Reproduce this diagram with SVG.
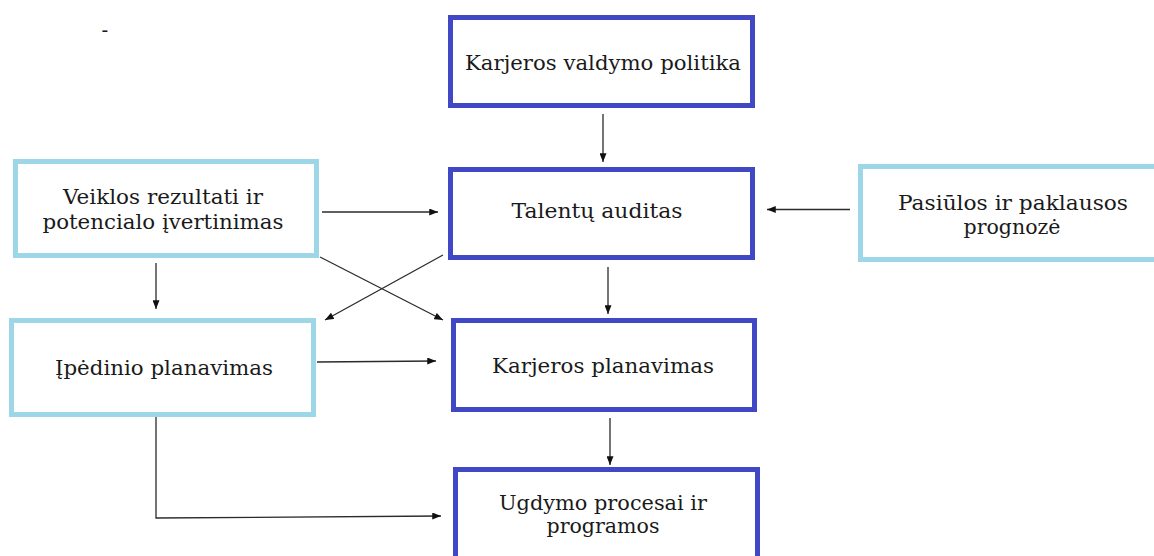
<svg xmlns="http://www.w3.org/2000/svg" width="1154" height="556" viewBox="0 0 1154 556">
  <style>
    .core { fill: #ffffff; stroke: #4148c6; stroke-width: 5; }
    .side { fill: #ffffff; stroke: #9dd6e6; stroke-width: 5; }
    .lbl { font-family: "DejaVu Serif", "Liberation Serif", serif; font-size: 20px; fill: #1a1a1a; text-anchor: middle; }
    .link { fill: none; stroke: #2b2b2b; stroke-width: 1.3; }
  </style>
  <defs>
    <marker id="arrow" viewBox="0 0 10 8" refX="10" refY="4" markerWidth="9" markerHeight="7" markerUnits="userSpaceOnUse" orient="auto">
      <path d="M0,0 L10,4 L0,8 Z" fill="#111111"/>
    </marker>
  </defs>
  <rect width="1154" height="556" fill="#ffffff"/>

  <text x="105" y="37" class="lbl" font-size="14">-</text>

  <g id="policy">
    <rect class="core" x="450.5" y="17.5" width="302" height="88"/>
    <text class="lbl" x="603" y="70" textLength="276" lengthAdjust="spacingAndGlyphs">Karjeros valdymo politika</text>
  </g>
  <g id="audit">
    <rect class="core" x="450.5" y="169.5" width="302" height="88"/>
    <text class="lbl" x="597" y="218" textLength="171" lengthAdjust="spacingAndGlyphs">Talentų auditas</text>
  </g>
  <g id="career-planning">
    <rect class="core" x="453.5" y="320.5" width="301" height="89"/>
    <text class="lbl" x="603" y="373" textLength="222" lengthAdjust="spacingAndGlyphs">Karjeros planavimas</text>
  </g>
  <g id="development">
    <rect class="core" x="455.5" y="469.5" width="302" height="92"/>
    <text class="lbl" x="603" y="510" textLength="208" lengthAdjust="spacingAndGlyphs">Ugdymo procesai ir</text>
    <text class="lbl" x="603" y="533" textLength="113" lengthAdjust="spacingAndGlyphs">programos</text>
  </g>
  <g id="appraisal">
    <rect class="side" x="15.5" y="161.5" width="301" height="94"/>
    <text class="lbl" x="163" y="204" textLength="200" lengthAdjust="spacingAndGlyphs">Veiklos rezultati ir</text>
    <text class="lbl" x="163" y="229" textLength="241" lengthAdjust="spacingAndGlyphs">potencialo įvertinimas</text>
  </g>
  <g id="succession">
    <rect class="side" x="11.5" y="320.5" width="302" height="94"/>
    <text class="lbl" x="164" y="375" textLength="218" lengthAdjust="spacingAndGlyphs">Įpėdinio planavimas</text>
  </g>
  <g id="forecast">
    <rect class="side" x="860.5" y="166.5" width="300" height="93"/>
    <text class="lbl" x="1013" y="210" textLength="230" lengthAdjust="spacingAndGlyphs">Pasiūlos ir paklausos</text>
    <text class="lbl" x="1012" y="234" textLength="97" lengthAdjust="spacingAndGlyphs">prognozė</text>
  </g>

  <g id="connectors">
    <path class="link" marker-end="url(#arrow)" d="M603,114 L603,162"/>
    <path class="link" marker-end="url(#arrow)" d="M322,212 L438,212"/>
    <path class="link" marker-end="url(#arrow)" d="M850,209.5 L767,209.5"/>
    <path class="link" marker-end="url(#arrow)" d="M156,263 L156,309"/>
    <path class="link" marker-end="url(#arrow)" d="M320,257 L443,320"/>
    <path class="link" marker-end="url(#arrow)" d="M443,255 L325,320"/>
    <path class="link" marker-end="url(#arrow)" d="M608,267 L608,314"/>
    <path class="link" marker-end="url(#arrow)" d="M317,362 L436,361"/>
    <path class="link" marker-end="url(#arrow)" d="M610,418 L610,465"/>
    <path class="link" marker-end="url(#arrow)" d="M156,417 L156,518 L441,516"/>
  </g>
</svg>
